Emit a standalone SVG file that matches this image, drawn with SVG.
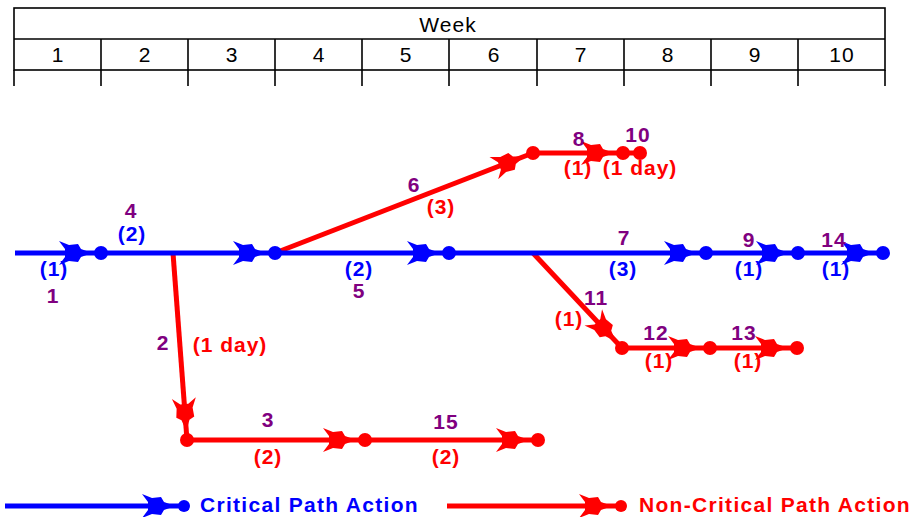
<svg xmlns="http://www.w3.org/2000/svg" width="921" height="517" viewBox="0 0 921 517">
  <style>
    .grid { stroke: #000; stroke-width: 1.6; fill: none; }
    .hdr { font-family: "Liberation Sans", Arial, sans-serif; font-size: 21px; fill: #000; text-anchor: middle; letter-spacing: 1px; }
    .lbl { font-family: "Liberation Sans", Arial, sans-serif; font-size: 21px; font-weight: bold; text-anchor: middle; letter-spacing: 1px; }
    .num { fill: #800080; }
    .dur-b { fill: #0000ff; }
    .dur-r { fill: #ff0000; }
    .crit { stroke: #0000ff; stroke-width: 5; fill: none; }
    .noncrit { stroke: #ff0000; stroke-width: 5; fill: none; }
    .cnode { fill: #0000ff; }
    .rnode { fill: #ff0000; }
    .legend { font-family: "Liberation Sans", Arial, sans-serif; font-size: 21px; font-weight: bold; letter-spacing: 1.3px; }
  </style>
  <defs>
    <marker id="arrowBlue" markerUnits="userSpaceOnUse" orient="auto" viewBox="-36 -15 54 30" markerWidth="54" markerHeight="30" refX="11" refY="0">
      <path d="M2,0 L-9,-4 L-12,-9 L-21,-8 L-31,-12 L-25,-4 L-25,4 L-31,12 L-21,8 L-12,9 L-9,4 Z" fill="#0000ff"/>
    </marker>
    <marker id="arrowRed" markerUnits="userSpaceOnUse" orient="auto" viewBox="-36 -15 54 30" markerWidth="54" markerHeight="30" refX="11" refY="0">
      <path d="M2,0 L-9,-4 L-12,-9 L-21,-8 L-31,-12 L-25,-4 L-25,4 L-31,12 L-21,8 L-12,9 L-9,4 Z" fill="#ff0000"/>
    </marker>
  </defs>
  <rect width="921" height="517" fill="#fff"/>

  <!-- week timeline header -->
  <g id="timeline">
    <rect class="grid" x="14" y="8" width="871" height="62"/>
    <line class="grid" x1="14" y1="39" x2="885" y2="39"/>
    <line class="grid" x1="14" y1="70" x2="14" y2="86"/>
    <line class="grid" x1="101" y1="39" x2="101" y2="86"/>
    <line class="grid" x1="188" y1="39" x2="188" y2="86"/>
    <line class="grid" x1="275" y1="39" x2="275" y2="86"/>
    <line class="grid" x1="362" y1="39" x2="362" y2="86"/>
    <line class="grid" x1="449" y1="39" x2="449" y2="86"/>
    <line class="grid" x1="537" y1="39" x2="537" y2="86"/>
    <line class="grid" x1="624" y1="39" x2="624" y2="86"/>
    <line class="grid" x1="711" y1="39" x2="711" y2="86"/>
    <line class="grid" x1="798" y1="39" x2="798" y2="86"/>
    <line class="grid" x1="885" y1="70" x2="885" y2="86"/>
    <text class="hdr" x="448" y="32">Week</text>
    <text class="hdr" x="58" y="62">1</text>
    <text class="hdr" x="145" y="62">2</text>
    <text class="hdr" x="232" y="62">3</text>
    <text class="hdr" x="319" y="62">4</text>
    <text class="hdr" x="406" y="62">5</text>
    <text class="hdr" x="494" y="62">6</text>
    <text class="hdr" x="581" y="62">7</text>
    <text class="hdr" x="668" y="62">8</text>
    <text class="hdr" x="755" y="62">9</text>
    <text class="hdr" x="842" y="62">10</text>
  </g>

  <!-- activity arrows: non-critical first, critical path on top -->
  <g id="connectors">
    <line class="noncrit" x1="275" y1="253" x2="533" y2="153" marker-end="url(#arrowRed)"/>
    <line class="noncrit" x1="533" y1="153" x2="623" y2="153" marker-end="url(#arrowRed)"/>
    <line class="noncrit" x1="623" y1="153" x2="640" y2="153"/>
    <line class="noncrit" x1="173" y1="253" x2="187" y2="440" marker-end="url(#arrowRed)"/>
    <line class="noncrit" x1="187" y1="440" x2="365" y2="440" marker-end="url(#arrowRed)"/>
    <line class="noncrit" x1="365" y1="440" x2="538" y2="440" marker-end="url(#arrowRed)"/>
    <line class="noncrit" x1="533" y1="253" x2="622" y2="348" marker-end="url(#arrowRed)"/>
    <line class="noncrit" x1="622" y1="348" x2="710" y2="348" marker-end="url(#arrowRed)"/>
    <line class="noncrit" x1="710" y1="348" x2="797" y2="348" marker-end="url(#arrowRed)"/>

    <line class="crit" x1="15" y1="253" x2="101" y2="253" marker-end="url(#arrowBlue)"/>
    <line class="crit" x1="101" y1="253" x2="275" y2="253" marker-end="url(#arrowBlue)"/>
    <line class="crit" x1="275" y1="253" x2="449" y2="253" marker-end="url(#arrowBlue)"/>
    <line class="crit" x1="449" y1="253" x2="706" y2="253" marker-end="url(#arrowBlue)"/>
    <line class="crit" x1="706" y1="253" x2="798" y2="253" marker-end="url(#arrowBlue)"/>
    <line class="crit" x1="798" y1="253" x2="883" y2="253" marker-end="url(#arrowBlue)"/>
  </g>

  <!-- event nodes -->
  <g id="n1"><circle class="cnode" cx="101" cy="253" r="7"/></g>
  <g id="n2"><circle class="cnode" cx="275" cy="253" r="7"/></g>
  <g id="n3"><circle class="cnode" cx="449" cy="253" r="7"/></g>
  <g id="n4"><circle class="cnode" cx="706" cy="253" r="7"/></g>
  <g id="n5"><circle class="cnode" cx="798" cy="253" r="7"/></g>
  <g id="n6"><circle class="cnode" cx="883" cy="253" r="7"/></g>
  <g id="n7"><circle class="rnode" cx="533" cy="153" r="7"/></g>
  <g id="n8"><circle class="rnode" cx="623" cy="153" r="7"/></g>
  <g id="n9"><circle class="rnode" cx="640" cy="153" r="7"/></g>
  <g id="n10"><circle class="rnode" cx="187" cy="440" r="7"/></g>
  <g id="n11"><circle class="rnode" cx="365" cy="440" r="7"/></g>
  <g id="n12"><circle class="rnode" cx="538" cy="440" r="7"/></g>
  <g id="n13"><circle class="rnode" cx="622" cy="348" r="7"/></g>
  <g id="n14"><circle class="rnode" cx="710" cy="348" r="7"/></g>
  <g id="n15"><circle class="rnode" cx="797" cy="348" r="7"/></g>

  <!-- activity numbers and durations -->
  <g id="labels" class="lbl">
    <text class="dur-b" x="54" y="276">(1)</text>
    <text class="num" x="53" y="303">1</text>
    <text class="num" x="131" y="218">4</text>
    <text class="dur-b" x="132" y="241">(2)</text>
    <text class="num" x="414" y="192">6</text>
    <text class="dur-r" x="441" y="214">(3)</text>
    <text class="dur-b" x="359" y="276">(2)</text>
    <text class="num" x="359" y="298">5</text>
    <text class="num" x="579" y="146">8</text>
    <text class="num" x="638" y="142">10</text>
    <text class="dur-r" x="578" y="175">(1)</text>
    <text class="dur-r" x="640" y="175">(1 day)</text>
    <text class="num" x="624" y="245">7</text>
    <text class="dur-b" x="623" y="276">(3)</text>
    <text class="num" x="749" y="247">9</text>
    <text class="dur-b" x="749" y="276">(1)</text>
    <text class="num" x="834" y="247">14</text>
    <text class="dur-b" x="836" y="276">(1)</text>
    <text class="num" x="596" y="305">11</text>
    <text class="dur-r" x="569" y="326">(1)</text>
    <text class="num" x="656" y="340">12</text>
    <text class="dur-r" x="659" y="368">(1)</text>
    <text class="num" x="744" y="340">13</text>
    <text class="dur-r" x="748" y="368">(1)</text>
    <text class="num" x="163" y="350">2</text>
    <text class="dur-r" x="230" y="352">(1 day)</text>
    <text class="num" x="268" y="427">3</text>
    <text class="dur-r" x="268" y="464">(2)</text>
    <text class="num" x="446" y="429">15</text>
    <text class="dur-r" x="446" y="464">(2)</text>
  </g>

  <!-- legend -->
  <g id="legend">
    <line class="crit" x1="5" y1="506" x2="184" y2="506" marker-end="url(#arrowBlue)"/>
    <circle class="cnode" cx="184" cy="506" r="6"/>
    <text class="legend" x="200" y="512" fill="#0000ff">Critical Path Action</text>
    <line class="noncrit" x1="447" y1="506" x2="621" y2="506" marker-end="url(#arrowRed)"/>
    <circle class="rnode" cx="621" cy="506" r="6"/>
    <text class="legend" x="639" y="512" fill="#ff0000">Non-Critical Path Action</text>
  </g>
</svg>
